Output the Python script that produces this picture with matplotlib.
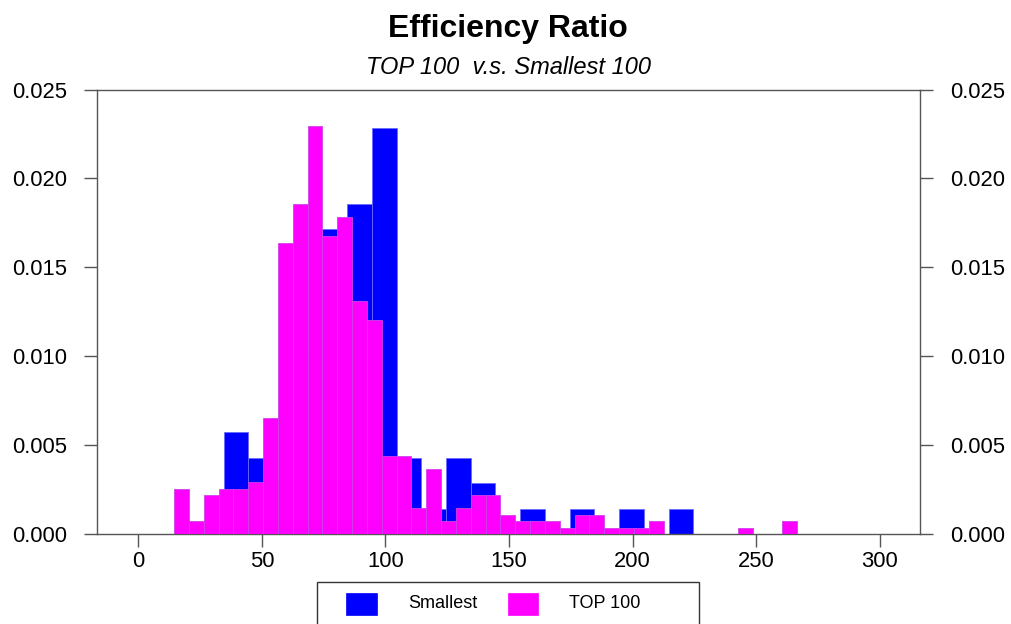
import numpy as np
import matplotlib
matplotlib.use("Agg")
import matplotlib.pyplot as plt
from matplotlib.patches import Rectangle

plt.rcParams['font.family'] = ['Liberation Sans', 'DejaVu Sans']

# Histogram bins: both groups start at 14.5
bin_start = 14.5
smallest_width = 10
top_width = 6

# Counts per bin for the "Smallest" group (bins of width 10)
smallest_counts = [0, 0, 4, 3, 2, 7, 12, 13, 16, 3, 1, 3, 2, 0, 1, 0, 1, 0, 1, 0, 1]
# Counts per bin for the "TOP 100" group (bins of width 6)
top_counts = [7, 2, 6, 7, 7, 8, 18, 45, 51, 63, 46, 49, 36, 33, 12, 12, 4, 10,
              2, 4, 6, 6, 3, 2, 2, 2, 1, 3, 3, 1, 1, 1, 2, 0, 0, 0, 0, 0, 1,
              0, 0, 2]

series_labels = ["Smallest", "TOP 100"]
x_ticks = [0, 50, 100, 150, 200, 250, 300]
y_ticks = [0.000, 0.005, 0.010, 0.015, 0.020, 0.025]

BLUE = "#0000FF"
MAGENTA = "#FF00FF"
AXIS_GREY = "#555555"

W, H = 1011, 624
fig = plt.figure(figsize=(W / 100, H / 100), dpi=100)


def fx(px):
    return px / W


def fy(py):
    return 1 - py / H


ax = fig.add_axes([fx(96.7), fy(534), fx(920) - fx(96.7), fy(89.5) - fy(534)])

s_edges = bin_start + smallest_width * np.arange(len(smallest_counts) + 1)
t_edges = bin_start + top_width * np.arange(len(top_counts) + 1)

ax.hist(s_edges[:-1], bins=s_edges, weights=smallest_counts, density=True,
        color=BLUE, edgecolor="#6a6aff", linewidth=0.6, zorder=2)
ax.hist(t_edges[:-1], bins=t_edges, weights=top_counts, density=True,
        color=MAGENTA, edgecolor="#d040e8", linewidth=0.6, zorder=3)

ax.set_xlim(-16.8, 316.2)
ax.set_ylim(0, 0.025)
ax.set_xticks(x_ticks)
ax.set_xticklabels([str(v) for v in x_ticks])
ax.set_yticks(y_ticks)
ax.set_yticklabels([f"{v:.3f}" for v in y_ticks])

for sp in ax.spines.values():
    sp.set_color(AXIS_GREY)
    sp.set_linewidth(1.0)

ax.tick_params(axis='x', which='both', direction='out', length=9.6, width=1.0,
               color=AXIS_GREY, labelsize=15.8, pad=2.5, top=False)
ax.tick_params(axis='y', which='both', direction='out', length=9.6, width=1.0,
               color=AXIS_GREY, labelsize=15.8, pad=12.0,
               left=True, right=True, labelleft=True, labelright=True)

cx = (fx(96.7) + fx(920)) / 2
fig.text(cx, fy(37), "Efficiency Ratio", ha='center', va='baseline',
         fontsize=23, fontweight='bold')
fig.text(cx, fy(74), "TOP 100  v.s. Smallest 100", ha='center',
         va='baseline', fontsize=17, fontstyle='italic')

# Legend box along the bottom edge
fig.add_artist(Rectangle((fx(316.7), fy(640)), fx(699.3) - fx(316.7),
                         fy(582.3) - fy(640), transform=fig.transFigure,
                         facecolor='white', edgecolor='#333333', linewidth=1.0))
handles = [(346, 376.7, BLUE, 408), (507.7, 538.3, MAGENTA, 569)]
for (x0, x1, col, tx), lab in zip(handles, series_labels):
    fig.add_artist(Rectangle((fx(x0), fy(615)), fx(x1) - fx(x0),
                             fy(592.7) - fy(615), transform=fig.transFigure,
                             facecolor=col, edgecolor=col, linewidth=0.5))
    fig.text(fx(tx), fy(604), lab, ha='left', va='center', fontsize=13)

fig.savefig("out.png", dpi=100)
